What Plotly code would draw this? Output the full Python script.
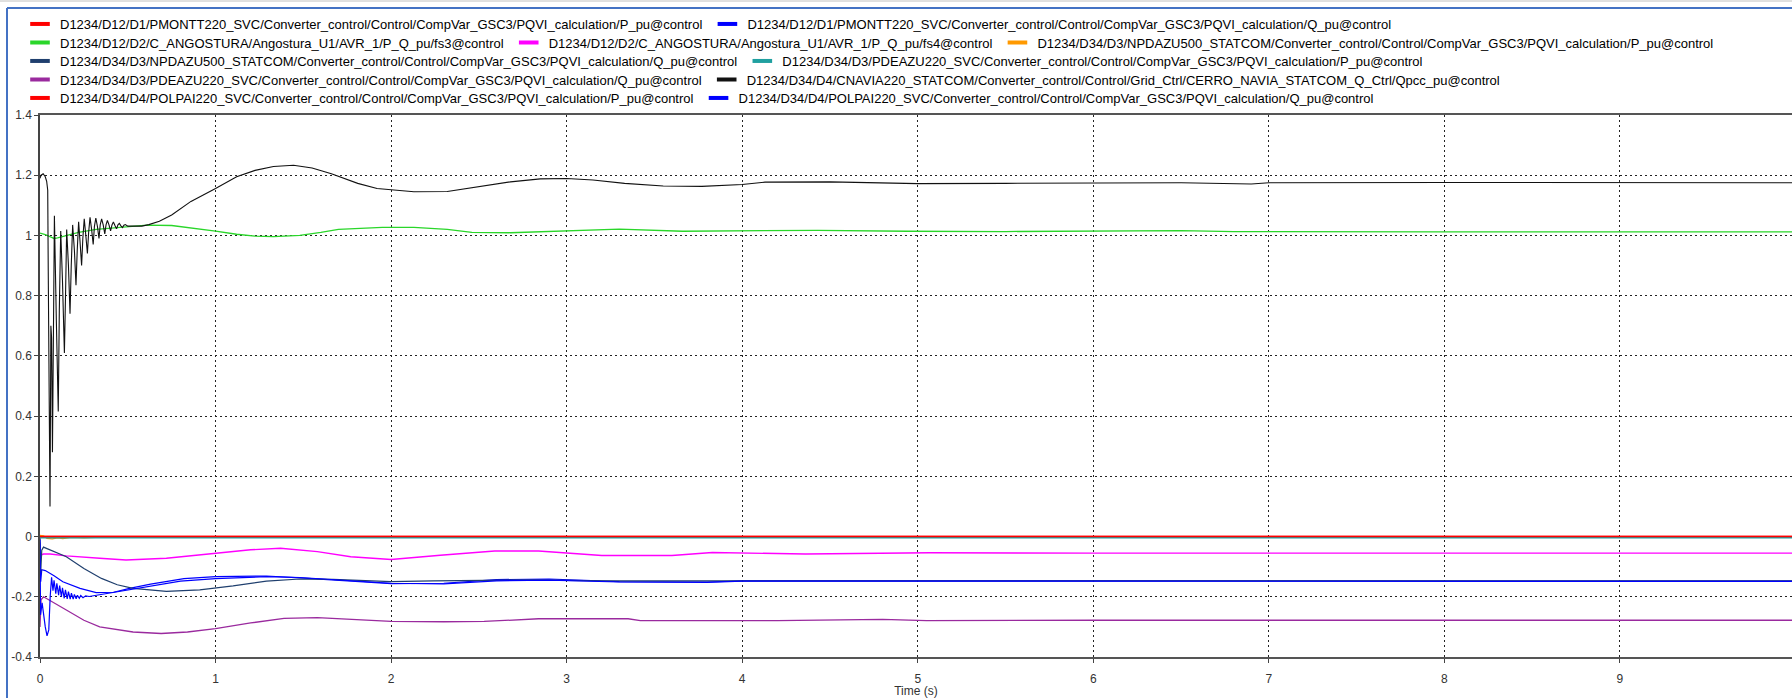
import plotly.graph_objects as go

# ---------------- data ----------------
NAMES = [
    "D1234/D12/D1/PMONTT220_SVC/Converter_control/Control/CompVar_GSC3/PQVI_calculation/P_pu@control",
    "D1234/D12/D1/PMONTT220_SVC/Converter_control/Control/CompVar_GSC3/PQVI_calculation/Q_pu@control",
    "D1234/D12/D2/C_ANGOSTURA/Angostura_U1/AVR_1/P_Q_pu/fs3@control",
    "D1234/D12/D2/C_ANGOSTURA/Angostura_U1/AVR_1/P_Q_pu/fs4@control",
    "D1234/D34/D3/NPDAZU500_STATCOM/Converter_control/Control/CompVar_GSC3/PQVI_calculation/P_pu@control",
    "D1234/D34/D3/NPDAZU500_STATCOM/Converter_control/Control/CompVar_GSC3/PQVI_calculation/Q_pu@control",
    "D1234/D34/D3/PDEAZU220_SVC/Converter_control/Control/CompVar_GSC3/PQVI_calculation/P_pu@control",
    "D1234/D34/D3/PDEAZU220_SVC/Converter_control/Control/CompVar_GSC3/PQVI_calculation/Q_pu@control",
    "D1234/D34/D4/CNAVIA220_STATCOM/Converter_control/Control/Grid_Ctrl/CERRO_NAVIA_STATCOM_Q_Ctrl/Qpcc_pu@control",
    "D1234/D34/D4/POLPAI220_SVC/Converter_control/Control/CompVar_GSC3/PQVI_calculation/P_pu@control",
    "D1234/D34/D4/POLPAI220_SVC/Converter_control/Control/CompVar_GSC3/PQVI_calculation/Q_pu@control",
]

pmontt_p_t = [0.0, 9.98]
pmontt_p_y = [0.0, 0.0]

pmontt_q_t = [0.0, 0.004, 0.01, 0.03, 0.08, 0.13, 0.228, 0.32, 0.42, 0.51, 0.63, 0.82, 1.0, 1.29,
              1.48, 1.67, 2.0, 2.3, 2.6, 2.9, 3.3, 3.8, 4.0, 9.98]
pmontt_q_y = [-0.02, -0.15, -0.11, -0.113, -0.13, -0.15, -0.172, -0.186, -0.185, -0.172, -0.158,
              -0.14, -0.133, -0.131, -0.137, -0.144, -0.156, -0.155, -0.143, -0.141, -0.15, -0.151,
              -0.147, -0.148]

ang_fs3_t = [0.0, 0.03, 0.06, 0.08, 0.1, 0.15, 0.22, 0.32, 0.45, 0.61, 0.75, 0.88, 1.0, 1.12,
             1.225, 1.33, 1.48, 1.6, 1.7, 1.95, 2.13, 2.32, 2.46, 2.68, 2.9, 3.3, 3.66, 4.43,
             4.94, 5.5, 6.5, 6.8, 8.0, 9.98]
ang_fs3_y = [1.008, 1.003, 0.995, 0.99, 0.992, 1.0, 1.01, 1.02, 1.027, 1.034, 1.033, 1.024, 1.014,
             1.004, 0.998, 0.996, 1.0, 1.01, 1.02, 1.027, 1.027, 1.02, 1.01, 1.009, 1.014, 1.021,
             1.014, 1.017, 1.014, 1.013, 1.016, 1.013, 1.012, 1.012]

ang_fs4_t = [0.0, 0.02, 0.057, 0.15, 0.34, 0.49, 0.72, 1.0, 1.2, 1.37, 1.58, 1.77, 2.0, 2.28,
             2.59, 2.84, 3.05, 3.2, 3.6, 3.83, 4.36, 5.07, 6.0, 9.98]
ang_fs4_y = [-0.062, -0.058, -0.058, -0.064, -0.072, -0.078, -0.072, -0.057, -0.044, -0.039,
             -0.05, -0.067, -0.076, -0.062, -0.048, -0.048, -0.058, -0.063, -0.063, -0.053,
             -0.058, -0.054, -0.055, -0.055]

npd_p_t = [0.0, 0.02, 0.04, 0.07, 0.1, 0.13, 0.18, 0.25, 0.35, 0.5, 9.98]
npd_p_y = [0.004, 0.002, -0.006, -0.008, -0.004, -0.007, -0.003, -0.004, -0.002, 0.0, 0.0]

npd_q_t = [0.0, 0.004, 0.01, 0.02, 0.04, 0.08, 0.15, 0.25, 0.35, 0.44, 0.53, 0.72, 0.91, 1.1,
           1.29, 1.48, 1.67, 2.0, 2.24, 2.81, 3.2, 4.0, 9.98]
npd_q_y = [0.0, -0.12, -0.045, -0.035, -0.04, -0.05, -0.067, -0.106, -0.139, -0.16, -0.172,
           -0.182, -0.177, -0.164, -0.148, -0.141, -0.142, -0.15, -0.147, -0.144, -0.147,
           -0.147, -0.147]

pde_p_t = [0.0, 9.98]
pde_p_y = [-0.004, -0.004]

pde_q_t = [0.0, 0.006, 0.02, 0.05, 0.1, 0.15, 0.25, 0.34, 0.53, 0.69, 0.84, 1.0, 1.2, 1.39,
           1.58, 1.77, 2.0, 2.3, 2.53, 2.84, 3.35, 3.42, 4.2, 4.8, 5.05, 6.0, 9.98]
pde_q_y = [-0.3, -0.21, -0.2, -0.21, -0.225, -0.244, -0.278, -0.3, -0.317, -0.322, -0.317,
           -0.306, -0.287, -0.272, -0.269, -0.274, -0.282, -0.283, -0.282, -0.273, -0.273,
           -0.279, -0.279, -0.275, -0.279, -0.278, -0.278]

cnavia_t = [0.0, 0.006, 0.018, 0.03, 0.038, 0.044, 0.047, 0.052, 0.057, 0.062, 0.066, 0.071,
            0.077, 0.082, 0.093, 0.104, 0.11, 0.118, 0.128, 0.139, 0.146, 0.152, 0.162, 0.171,
            0.178, 0.186, 0.196, 0.205, 0.212, 0.22, 0.228, 0.237, 0.244, 0.252, 0.261, 0.27,
            0.277, 0.285, 0.294, 0.303, 0.31, 0.318, 0.327, 0.336, 0.343, 0.351, 0.36, 0.369,
            0.376, 0.384, 0.393, 0.402, 0.41, 0.418, 0.427, 0.436, 0.444, 0.452, 0.461, 0.47,
            0.478, 0.486, 0.5, 0.54, 0.58, 0.62, 0.68, 0.75, 0.86, 1.0, 1.12, 1.225, 1.33,
            1.444, 1.55, 1.66, 1.81, 1.92, 2.0, 2.13, 2.32, 2.5, 2.68, 2.85, 3.0, 3.15, 3.33,
            3.55, 3.77, 4.0, 4.13, 4.5, 4.86, 5.0, 5.5, 6.0, 6.5, 6.9, 7.0, 8.0, 9.0, 9.98]
cnavia_y = [1.19, 1.2, 1.205, 1.195, 1.18, 1.15, 0.88, 0.5, 0.1, 0.7, 0.66, 0.28,
            0.8, 1.065, 0.72, 0.415, 0.75, 1.015, 0.85, 0.61, 0.82, 1.02, 0.9, 0.74,
            0.9, 1.035, 0.95, 0.835, 0.95, 1.045, 0.98, 0.9, 0.99, 1.055, 1.0, 0.94,
            1.01, 1.06, 1.02, 0.97, 1.03, 1.058, 1.03, 0.99, 1.035, 1.055, 1.035, 1.005,
            1.035, 1.05, 1.035, 1.015, 1.035, 1.045, 1.033, 1.022, 1.035, 1.04, 1.032, 1.026,
            1.034, 1.036, 1.031, 1.03, 1.031, 1.036, 1.047, 1.068, 1.113, 1.156, 1.195, 1.216,
            1.229, 1.233, 1.224, 1.205, 1.173, 1.156, 1.151, 1.145, 1.146, 1.162, 1.178, 1.188,
            1.189, 1.184, 1.173, 1.164, 1.163, 1.169, 1.177, 1.178, 1.174, 1.172, 1.173, 1.175,
            1.175, 1.171, 1.175, 1.176, 1.175, 1.175]

polpai_p_t = [0.0, 9.98]
polpai_p_y = [0.0, 0.0]

polpai_q_t = [0.0, 0.003, 0.012, 0.02, 0.03, 0.04, 0.05, 0.058, 0.066, 0.074, 0.08, 0.09, 0.096,
              0.106, 0.112, 0.122, 0.128, 0.138, 0.145, 0.155, 0.162, 0.172, 0.179, 0.189, 0.196,
              0.206, 0.213, 0.224, 0.232, 0.245, 0.26, 0.28, 0.32, 0.4, 0.51, 0.63, 0.8, 1.0,
              1.29, 1.48, 1.67, 2.0, 2.3, 2.6, 2.9, 3.3, 3.8, 4.0, 9.98]
polpai_q_y = [-0.01, -0.26, -0.22, -0.26, -0.3, -0.33, -0.31, -0.2, -0.135, -0.18, -0.145, -0.19,
              -0.155, -0.195, -0.163, -0.2, -0.17, -0.205, -0.177, -0.207, -0.183, -0.208, -0.188,
              -0.208, -0.192, -0.207, -0.195, -0.205, -0.196, -0.203, -0.197, -0.199, -0.195,
              -0.188, -0.175, -0.163, -0.148, -0.14, -0.133, -0.136, -0.143, -0.155, -0.157,
              -0.147, -0.145, -0.151, -0.152, -0.148, -0.149]

x_tickvals = [0, 1, 2, 3, 4, 5, 6, 7, 8, 9]
x_ticktext = ["0", "1", "2", "3", "4", "5", "6", "7", "8", "9"]
y_tickvals = [-0.4, -0.2, 0.0, 0.2, 0.4, 0.6, 0.8, 1.0, 1.2, 1.4]
y_ticktext = ["-0.4", "-0.2", "0", "0.2", "0.4", "0.6", "0.8", "1", "1.2", "1.4"]

# ---------------- styling ----------------
series = [
    (pmontt_p_t, pmontt_p_y, "#FF0000", 1.5, "legend"),
    (pmontt_q_t, pmontt_q_y, "#0000FF", 1.2, "legend"),
    (ang_fs3_t, ang_fs3_y, "#2AD62A", 1.3, "legend2"),
    (ang_fs4_t, ang_fs4_y, "#FF00FF", 1.4, "legend2"),
    (npd_p_t, npd_p_y, "#FF9900", 1.3, "legend2"),
    (npd_q_t, npd_q_y, "#1F3F6E", 1.2, "legend3"),
    (pde_p_t, pde_p_y, "#20A0A0", 1.3, "legend3"),
    (pde_q_t, pde_q_y, "#9A2A9E", 1.3, "legend4"),
    (cnavia_t, cnavia_y, "#111111", 1.1, "legend4"),
    (polpai_p_t, polpai_p_y, "#FF0000", 1.5, "legend5"),
    (polpai_q_t, polpai_q_y, "#0000FF", 1.2, "legend5"),
]

fig = go.Figure()
for name, (t, y, col, w, lg) in zip(NAMES, series):
    fig.add_trace(go.Scatter(x=t, y=y, mode="lines", name=name, legend=lg,
                             legendgroup=name, showlegend=False,
                             line=dict(color=col, width=w)))
    fig.add_trace(go.Scatter(x=[None], y=[None], mode="markers", name=name, legend=lg,
                             legendgroup=name, showlegend=True,
                             marker=dict(symbol="line-ew", size=14, color=col,
                                         line=dict(width=4, color=col))))

W, H = 1792, 698
ML, MR, MT, MB = 40, 0, 115, 41
plot_h = H - MT - MB


def py(ypx):
    return (H - MB - ypx) / plot_h


def px(xpx):
    return (xpx - ML) / (W - ML - MR)


legend_font = dict(family="Liberation Sans, Arial, sans-serif", size=13, color="#000000")
row_y = [24, 42.5, 61, 79.5, 98]
leg_common = dict(orientation="h", x=px(20), xanchor="left", yanchor="middle",
                  bgcolor="rgba(0,0,0,0)", borderwidth=0, font=legend_font,
                  itemwidth=30, tracegroupgap=0, itemclick="toggleothers")

axis_font = dict(family="Liberation Sans, Arial, sans-serif", size=12, color="#333333")

fig.update_layout(
    width=W, height=H,
    margin=dict(l=ML, r=MR, t=MT, b=MB, pad=0),
    paper_bgcolor="white", plot_bgcolor="white",
    showlegend=True,
    legend=dict(y=py(row_y[0]), **leg_common),
    legend2=dict(y=py(row_y[1]), **leg_common),
    legend3=dict(y=py(row_y[2]), **leg_common),
    legend4=dict(y=py(row_y[3]), **leg_common),
    legend5=dict(y=py(row_y[4]), **leg_common),
    xaxis=dict(range=[0, 9.98], tickmode="array", tickvals=x_tickvals, ticktext=x_ticktext,
               showgrid=True, gridcolor="#222222", gridwidth=1.3, griddash="1.5px,3.5px",
               showline=True, linecolor="#555555", linewidth=1.5, mirror=True,
               ticks="outside", ticklen=4, tickcolor="#444444", tickfont=axis_font,
               ticklabelstandoff=6, zeroline=False,
               title=dict(text="Time (s)", font=axis_font, standoff=4)),
    yaxis=dict(range=[-0.4, 1.4], tickmode="array", tickvals=y_tickvals, ticktext=y_ticktext,
               showgrid=True, gridcolor="#222222", gridwidth=1.3, griddash="1.5px,3.5px",
               showline=True, linecolor="#444444", linewidth=1.5,
               ticks="outside", ticklen=4, tickcolor="#444444", tickfont=axis_font,
               zeroline=False),
    shapes=[
        dict(type="line", xref="paper", yref="paper", x0=px(7), x1=px(7), y0=py(H), y1=py(8),
             line=dict(color="#4472C4", width=2)),
        dict(type="line", xref="paper", yref="paper", x0=px(7), x1=1.0, y0=py(8), y1=py(8),
             line=dict(color="#4472C4", width=2)),
        dict(type="line", xref="paper", yref="paper", x0=px(0), x1=1.0, y0=py(1), y1=py(1),
             line=dict(color="#C0C0C0", width=1)),
    ],
)

fig.write_html("out.html", config={"displayModeBar": False},
               post_script="document.body.style.margin='0';")
